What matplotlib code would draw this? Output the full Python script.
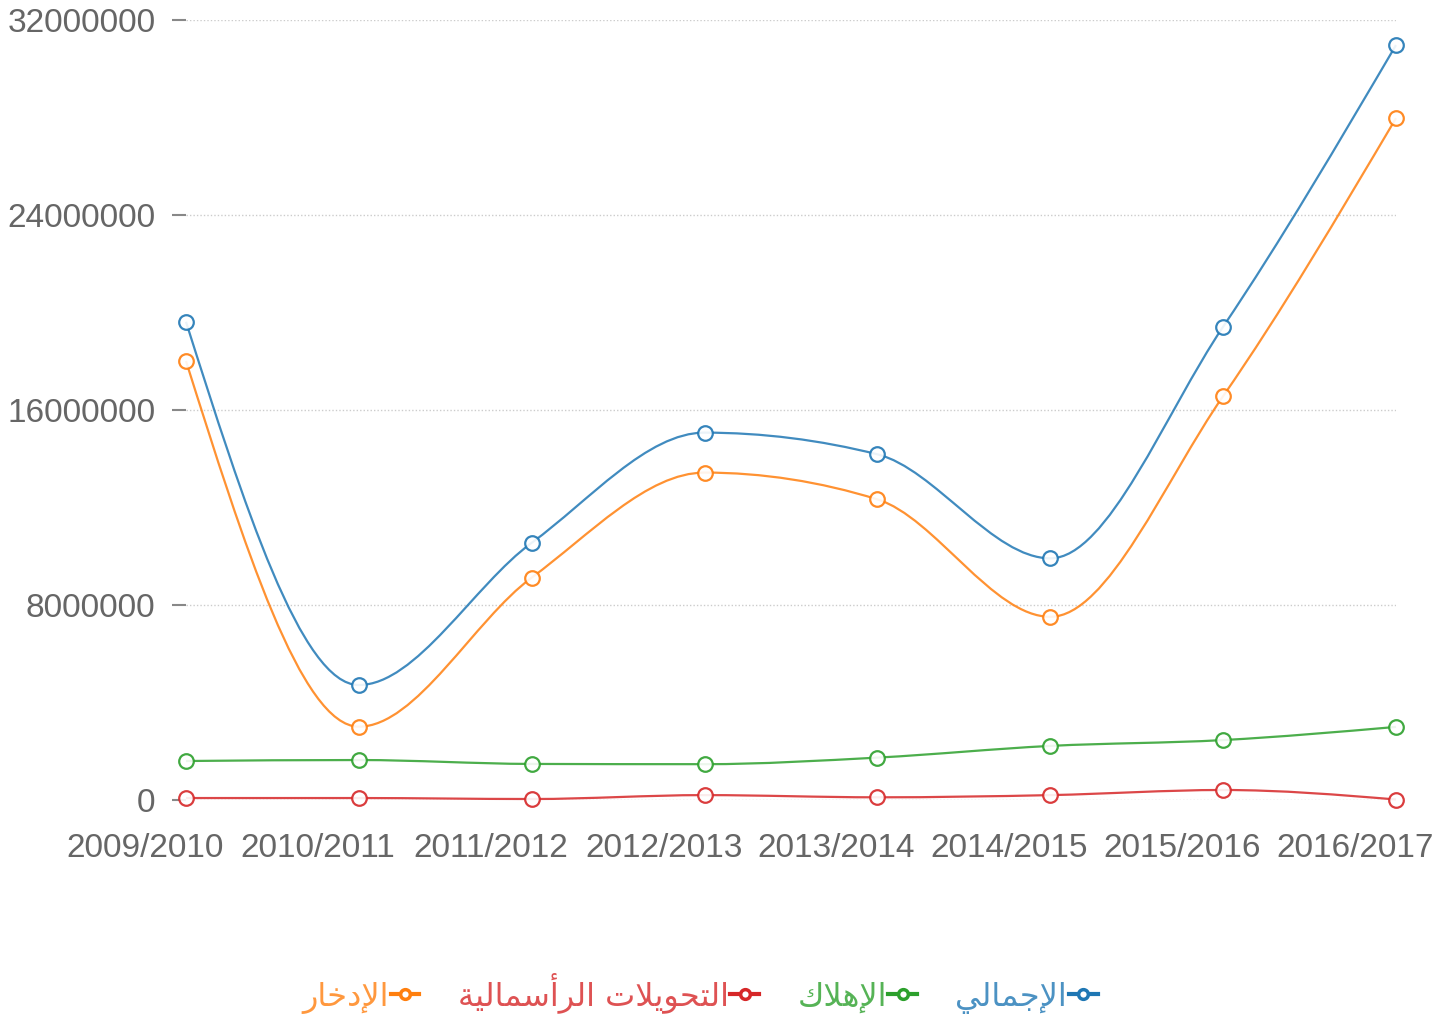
import matplotlib
matplotlib.use("Agg")
import matplotlib.pyplot as plt
import numpy as np
from matplotlib.path import Path
from matplotlib.patches import PathPatch
from matplotlib.lines import Line2D
from matplotlib.transforms import ScaledTranslation

# ----- Data -----
years = ["2009/2010", "2010/2011", "2011/2012", "2012/2013",
         "2013/2014", "2014/2015", "2015/2016", "2016/2017"]
total = [19610000, 4700000, 10540000, 15060000, 14170000, 9900000, 19410000, 30970000]
depreciation = [1580000, 1620000, 1460000, 1450000, 1720000, 2200000, 2440000, 2980000]
capital_transfers = [60000, 60000, 20000, 180000, 90000, 180000, 390000, 0]
savings = [18000000, 2990000, 9110000, 13420000, 12320000, 7500000, 16560000, 27970000]

names = ["الإجمالي", "الإهلاك", "التحويلات الرأسمالية", "الإدخار"]
colors = ["#1f77b4", "#2ca02c", "#d62728", "#ff7f0e"]
yticks = [0, 8000000, 16000000, 24000000, 32000000]

# ----- Arabic shaping (matplotlib has no bidi / joining) -----
# isolated, final, initial, medial
FORMS = {
    "ا": ("\uFE8D", "\uFE8E", None, None),
    "أ": ("\uFE83", "\uFE84", None, None),
    "إ": ("\uFE87", "\uFE88", None, None),
    "ة": ("\uFE93", "\uFE94", None, None),
    "ت": ("\uFE95", "\uFE96", "\uFE97", "\uFE98"),
    "ج": ("\uFE9D", "\uFE9E", "\uFE9F", "\uFEA0"),
    "ح": ("\uFEA1", "\uFEA2", "\uFEA3", "\uFEA4"),
    "خ": ("\uFEA5", "\uFEA6", "\uFEA7", "\uFEA8"),
    "د": ("\uFEA9", "\uFEAA", None, None),
    "ر": ("\uFEAD", "\uFEAE", None, None),
    "س": ("\uFEB1", "\uFEB2", "\uFEB3", "\uFEB4"),
    "ك": ("\uFED9", "\uFEDA", "\uFEDB", "\uFEDC"),
    "ل": ("\uFEDD", "\uFEDE", "\uFEDF", "\uFEE0"),
    "م": ("\uFEE1", "\uFEE2", "\uFEE3", "\uFEE4"),
    "ه": ("\uFEE9", "\uFEEA", "\uFEEB", "\uFEEC"),
    "و": ("\uFEED", "\uFEEE", None, None),
    "ي": ("\uFEF1", "\uFEF2", "\uFEF3", "\uFEF4"),
}
LAM_ALEF = {"ا": ("\uFEFB", "\uFEFC"), "أ": ("\uFEF7", "\uFEF8"), "إ": ("\uFEF9", "\uFEFA")}


def shape(text):
    out = []
    join_prev = False
    i = 0
    while i < len(text):
        c = text[i]
        if c not in FORMS:
            out.append(c)
            join_prev = False
            i += 1
            continue
        nxt = text[i + 1] if i + 1 < len(text) else None
        if c == "ل" and nxt in LAM_ALEF:
            out.append(LAM_ALEF[nxt][1 if join_prev else 0])
            join_prev = False
            i += 2
            continue
        iso, fin, ini, med = FORMS[c]
        join_next = ini is not None and nxt in FORMS
        if join_prev and join_next:
            out.append(med)
        elif join_prev:
            out.append(fin)
        elif join_next:
            out.append(ini)
        else:
            out.append(iso)
        join_prev = ini is not None
        i += 1
    return "".join(reversed(out))


# ----- Monotone cubic curve (like d3.curveMonotoneX) -----
def monotone_path(x, y):
    x = np.asarray(x, float)
    y = np.asarray(y, float)
    n = len(x)
    h = np.diff(x)
    s = np.diff(y) / h
    t = np.zeros(n)
    for i in range(1, n - 1):
        h0, h1, s0, s1 = h[i - 1], h[i], s[i - 1], s[i]
        p = (s0 * h1 + s1 * h0) / (h0 + h1)
        t[i] = (np.sign(s0) + np.sign(s1)) * min(abs(s0), abs(s1), 0.5 * abs(p))
    t[0] = (3 * s[0] - t[1]) / 2
    t[-1] = (3 * s[-1] - t[-2]) / 2
    verts = [(x[0], y[0])]
    codes = [Path.MOVETO]
    for i in range(n - 1):
        dx = h[i] / 3
        verts += [(x[i] + dx, y[i] + dx * t[i]),
                  (x[i + 1] - dx, y[i + 1] - dx * t[i + 1]),
                  (x[i + 1], y[i + 1])]
        codes += [Path.CURVE4] * 3
    return Path(verts, codes)


# ----- Plot -----
fig = plt.figure(figsize=(14.5, 10.19), dpi=100)
ax = fig.add_axes([186 / 1450, 1 - 799.5 / 1019, 1210 / 1450, 779.5 / 1019])

x = np.arange(len(years))
series = [total, depreciation, capital_transfers, savings]

for vals, c in zip(series, colors):
    ax.add_patch(PathPatch(monotone_path(x, vals), fill=False, edgecolor=c,
                           lw=1.6, alpha=0.85, clip_on=False, zorder=3))
    ax.plot(x, vals, linestyle="none", marker="o", ms=10.5, mfc="white",
            mec=c, mew=1.6, clip_on=False, zorder=4, alpha=0.9)

ax.set_xlim(0, len(years) - 1)
ax.set_ylim(0, 32000000)

ax.set_yticks(yticks)
ax.set_yticklabels([str(v) for v in yticks])
ax.set_xticks(x)
ax.set_xticklabels(years)

for s in ax.spines.values():
    s.set_visible(False)

ax.tick_params(axis="y", length=10, width=1.5, color="#888888", pad=12,
               labelsize=24, labelcolor="#666666")
ax.tick_params(axis="x", length=0, pad=24, labelsize=24, labelcolor="#666666")
for lab in ax.get_xticklabels() + ax.get_yticklabels():
    lab.set_family("Liberation Sans")
for lab in ax.get_xticklabels():
    lab.set_transform(lab.get_transform() + ScaledTranslation(-41 / 100, 0, fig.dpi_scale_trans))

ax.grid(axis="y", color="#cccccc", linestyle=(0, (1, 1.5)), lw=1)
ax.set_axisbelow(True)

# legend, right-to-left
handles = [Line2D([], [], color=c, lw=3, marker="o", ms=7, mfc="white", mec=c, mew=2.5)
           for c in colors]
labels = [shape(n) for n in names]
leg = fig.legend(handles[::-1], labels[::-1], loc="center", ncol=4,
                 bbox_to_anchor=(700 / 1450, 0.0255), frameon=False,
                 markerfirst=False, handlelength=0.9, handletextpad=0.05,
                 columnspacing=1.2, prop={"family": "DejaVu Sans", "size": 23})
for txt, c in zip(leg.get_texts(), colors[::-1]):
    txt.set_color(c)
    txt.set_alpha(0.8)

plt.savefig("out.png", dpi=100)
